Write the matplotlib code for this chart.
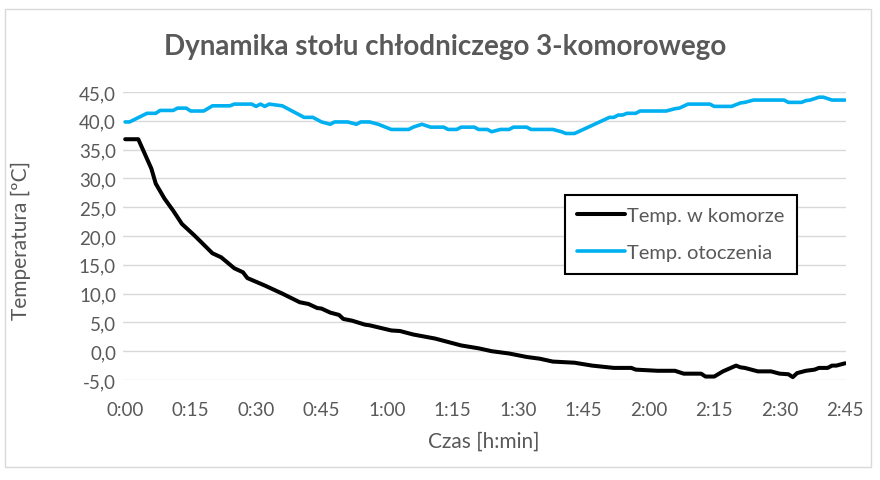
import matplotlib
matplotlib.use("Agg")
import matplotlib.pyplot as plt
from matplotlib.patches import Rectangle

plt.rcParams['font.family'] = ['Lato', 'DejaVu Sans']

# czas [min] i temperatura [C]
t_komora = [0, 3, 4, 6, 7, 9, 11, 13, 16, 20, 22, 25, 27, 28, 32, 36, 40, 42, 44, 45,
            47, 49, 50, 52, 55, 56, 61, 63, 66, 71, 74, 77, 81, 84, 88, 92, 95, 98,
            103, 107, 112, 116, 117, 122, 126, 128, 132, 133, 135, 137, 140, 141,
            142, 145, 148, 150, 152, 153, 154, 156, 158, 159, 161, 162, 163, 165]
temp_komora = [36.8, 36.8, 35.1, 31.7, 29.1, 26.5, 24.4, 22.1, 20.0, 17.0, 16.3, 14.4,
               13.7, 12.7, 11.4, 10.0, 8.5, 8.2, 7.5, 7.4, 6.7, 6.3, 5.6, 5.3, 4.6, 4.5,
               3.6, 3.5, 2.9, 2.2, 1.6, 1.0, 0.5, 0.0, -0.4, -1.0, -1.3, -1.8, -2.0,
               -2.5, -2.9, -2.9, -3.2, -3.4, -3.4, -3.9, -3.9, -4.4, -4.4, -3.5, -2.5,
               -2.8, -2.9, -3.5, -3.5, -3.9, -4.0, -4.5, -3.8, -3.4, -3.2, -2.9, -2.9,
               -2.5, -2.5, -2.1]

t_otocz = [0, 1, 5, 7, 8, 11, 12, 14, 15, 18, 20, 24, 25, 29, 30, 31, 32, 33, 35, 36,
           41, 43, 45, 47, 48, 51, 53, 54, 56, 58, 61, 65, 66, 68, 70, 73, 74, 76, 77,
           80, 81, 83, 84, 86, 88, 89, 92, 93, 98, 100, 101, 103, 111, 112, 113, 114,
           115, 117, 118, 124, 126, 127, 129, 134, 135, 139, 141, 142, 144, 151, 152,
           155, 156, 157, 159, 160, 162, 165]
temp_otocz = [39.8, 39.8, 41.3, 41.3, 41.8, 41.8, 42.2, 42.2, 41.7, 41.7, 42.6, 42.6,
              42.9, 42.9, 42.5, 42.9, 42.5, 42.9, 42.7, 42.6, 40.6, 40.6, 39.8, 39.4,
              39.8, 39.8, 39.4, 39.8, 39.8, 39.4, 38.5, 38.5, 38.9, 39.4, 38.9, 38.9,
              38.5, 38.5, 38.9, 38.9, 38.5, 38.5, 38.1, 38.5, 38.5, 38.9, 38.9, 38.5,
              38.5, 38.1, 37.8, 37.8, 40.6, 40.6, 41.0, 41.0, 41.3, 41.3, 41.7, 41.7,
              42.1, 42.2, 42.9, 42.9, 42.5, 42.5, 43.1, 43.2, 43.6, 43.6, 43.2, 43.2,
              43.5, 43.6, 44.1, 44.1, 43.6, 43.6]

x_ticks = list(range(0, 166, 15))
x_labels = ["%d:%02d" % (m // 60, m % 60) for m in x_ticks]
y_ticks = list(range(-5, 46, 5))
y_labels = [("%.1f" % v).replace(".", ",") for v in y_ticks]

grey = "#595959"

fig = plt.figure(figsize=(8.8, 4.81), dpi=100)
fig.patches.append(Rectangle((5 / 880, 1 - 468 / 481), 866 / 880, 458 / 481,
                             transform=fig.transFigure, fill=False,
                             edgecolor="#d9d9d9", lw=1))

ax = fig.add_axes([123 / 880, 1 - 381 / 481, 723 / 880, 288 / 481])
ax.plot(t_komora, temp_komora, color="black", lw=2.9, label="Temp. w komorze",
        solid_joinstyle="round", solid_capstyle="round")
ax.plot(t_otocz, temp_otocz, color="#00B0F0", lw=2.6, label="Temp. otoczenia",
        solid_joinstyle="round", solid_capstyle="round")

ax.set_xlim(-0.5, 165.2)
ax.set_ylim(-5, 45)
ax.set_xticks(x_ticks)
ax.set_xticklabels(x_labels)
ax.set_yticks(y_ticks)
ax.set_yticklabels(y_labels)
ax.tick_params(length=0, labelsize=13.5, colors=grey, pad=15)
ax.tick_params(axis="y", pad=5)
ax.grid(axis="y", color="#d9d9d9", lw=1)
ax.set_axisbelow(True)
for s in ax.spines.values():
    s.set_visible(False)

fig.text(484 / 880, 1 - 442 / 481, "Czas [h:min]", ha="center", va="center",
         fontsize=15, color=grey)
fig.text(21 / 880, 1 - 240 / 481, "Temperatura [ºC]", ha="center", va="center",
         rotation=90, fontsize=15, color=grey)
fig.text(445 / 880, 1 - 47 / 481, "Dynamika stołu chłodniczego 3-komorowego",
         ha="center", va="center", fontsize=20, fontweight="bold", color=grey)

leg = ax.legend(loc="upper left", bbox_to_anchor=(565 / 880, 1 - 196 / 481),
                bbox_transform=fig.transFigure, fancybox=False, framealpha=1,
                edgecolor="black", fontsize=14.5, handlelength=2.4,
                handletextpad=0.1, labelspacing=1.0, borderpad=0.6,
                borderaxespad=0)
leg.get_frame().set_linewidth(1.5)
for txt in leg.get_texts():
    txt.set_color(grey)

fig.savefig("out.png", dpi=100)
